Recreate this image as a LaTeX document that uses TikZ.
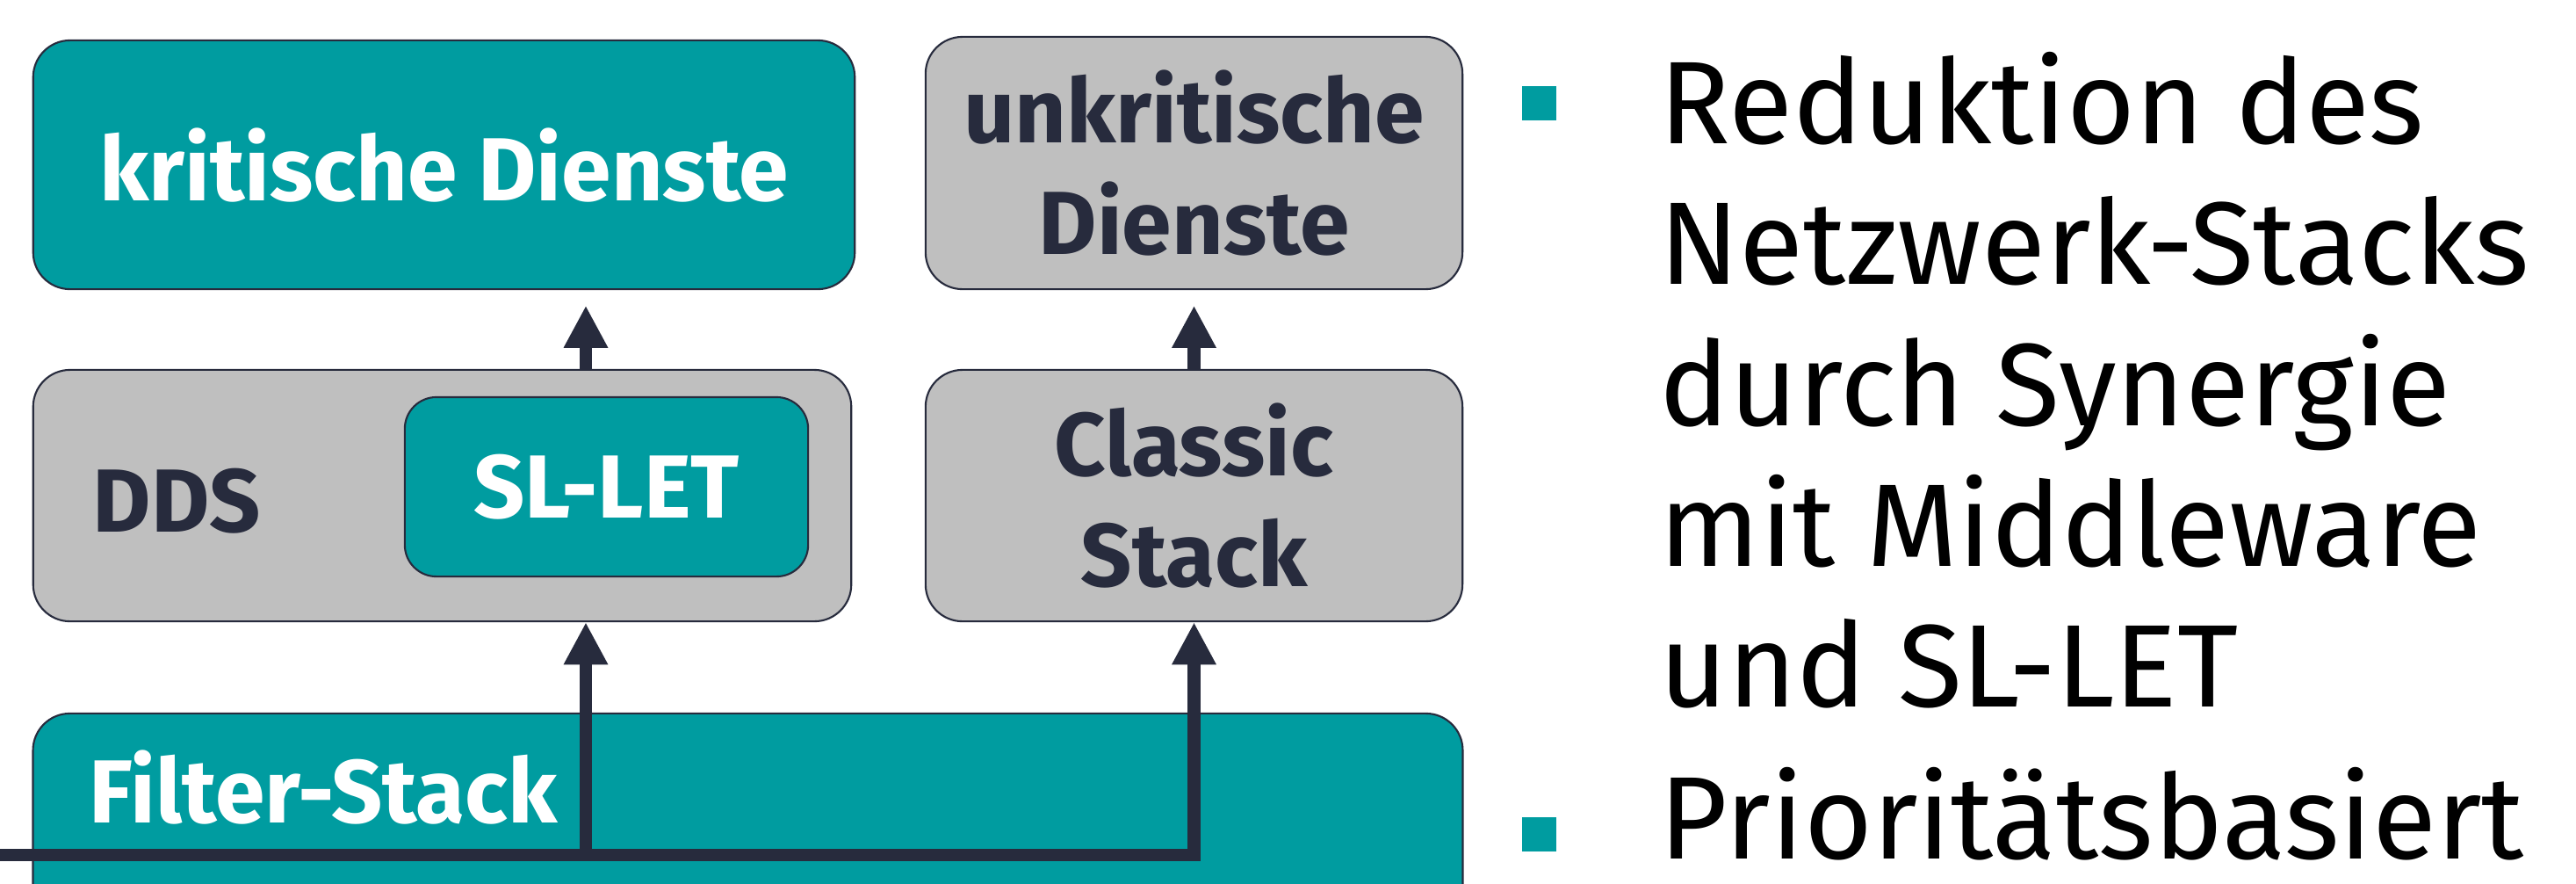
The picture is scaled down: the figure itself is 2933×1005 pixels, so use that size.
\documentclass[tikz,border=0pt]{standalone}
\usepackage{fontspec}
\setmainfont{Fira Sans}
\usetikzlibrary{arrows.meta}
\definecolor{hsteal}{HTML}{009CA0}
\definecolor{hsgray}{HTML}{BFBFBF}
\definecolor{hsdark}{HTML}{272B3D}
\tikzset{
  layer/.style={draw=hsdark, line width=0.6pt, rounded corners=0.42cm, inner sep=0pt,
    align=center, font=\fontsize{29}{36}\selectfont\bfseries},
  crit/.style={layer, fill=hsteal, text=white},
  plain/.style={layer, fill=hsgray, text=hsdark},
  wire/.style={draw=hsdark, line width=4.2pt, -{Triangle[length=13.7pt,width=13.4pt]}},
  bullet/.style={fill=hsteal, minimum size=0.39cm, inner sep=0pt},
  point/.style={anchor=base west, inner sep=0pt, align=left,
    font=\fontsize{38}{45.5}\selectfont}
}
\begin{document}
\begin{tikzpicture}[x=0.01cm, y=-0.01cm]
  \path[use as bounding box, clip] (0,0) rectangle (2933,1005);
  \fill[white] (0,0) rectangle (2933,1005);

  \node[crit, minimum width=9.35cm, minimum height=2.83cm] (krit) at (505.5,187.5) {kritische Dienste};
  \node[plain, minimum width=6.11cm, minimum height=2.87cm] (unkrit) at (1359.5,185.5) {unkritische\\Dienste};
  \node[plain, minimum width=9.31cm, minimum height=2.86cm] (dds) at (503.5,564) {};
  \node[crit, minimum width=4.59cm, minimum height=2.04cm, rounded corners=0.36cm] (slet) at (690.5,554) {SL-LET};
  \node[plain, minimum width=6.11cm, minimum height=2.86cm] (classic) at (1359.5,564) {Classic\\Stack};
  \node[crit, minimum width=16.27cm, minimum height=2.88cm] (filter) at (851.5,956) {};
  \node[anchor=base west, inner sep=0pt, text=hsdark, font=\fontsize{29}{36}\selectfont\bfseries] (ddslabel) at (105,605) {DDS};
  \node[anchor=base west, inner sep=0pt, text=white, font=\fontsize{29}{36}\selectfont\bfseries] (filterlabel) at (101,936) {Filter-Stack};

  \coordinate (in) at (0,973);
  \coordinate (tapdds) at (667,973);
  \coordinate (tapcl) at (classic.south |- in);
  \draw[wire] (in) -- (tapcl) -- (classic.south);
  \draw[wire] (tapdds) -- (tapdds |- dds.south);
  \draw[wire, shorten >=5pt] (dds.north -| tapdds) -- (krit.south -| tapdds);
  \draw[wire, shorten >=5pt] (classic.north) -- (unkrit.south);

  \node[bullet] (b1) at (1752,117) {};
  \node[bullet] (b2) at (1752,949) {};
  \node[point] (p1) at (1889,804) {Reduktion des\\Netzwerk-Stacks\\durch Synergie\\mit Middleware\\und SL-LET};
  \node[point] (p2) at (1889,977) {Prioritätsbasiert};
\end{tikzpicture}
\end{document}
